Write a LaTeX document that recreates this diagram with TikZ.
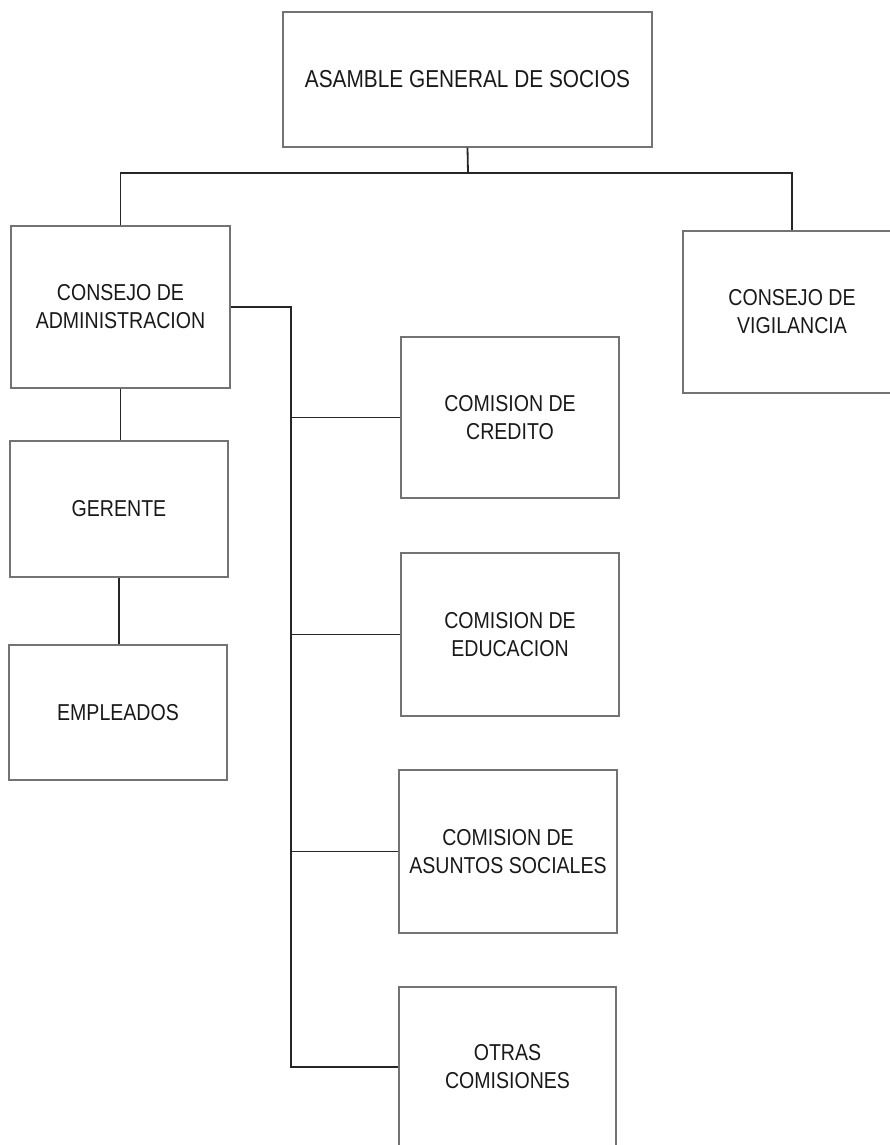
\documentclass[tikz,border=0pt]{standalone}
\usepackage{fontspec}
\setmainfont{Liberation Sans}[FakeStretch=0.85]
\begin{document}
\begin{tikzpicture}[x=1pt,y=-1pt,
  orgbox/.style={draw=black!55, line width=1.1pt, inner sep=0pt, align=center,
    font=\fontsize{23}{28}\selectfont, text=black!90},
  conn/.style={draw=black!85, line width=1.8pt}]
\useasboundingbox (0,0) rectangle (889,1145);
\node[orgbox, minimum width=369, minimum height=135, font=\fontsize{24.5}{28}\selectfont] (top) at (467.5,79.5) {ASAMBLE GENERAL DE SOCIOS};
\node[orgbox, minimum width=219, minimum height=162] (ca) at (120.5,307) {CONSEJO DE\\ADMINISTRACION};
\node[orgbox, minimum width=218, minimum height=162] (cv) at (792,312) {CONSEJO DE\\VIGILANCIA};
\node[orgbox, minimum width=218, minimum height=136] (ger) at (119,509) {GERENTE};
\node[orgbox, minimum width=218, minimum height=135] (emp) at (118,712.5) {EMPLEADOS};
\node[orgbox, minimum width=218, minimum height=161] (cre) at (510,417.5) {COMISION DE\\CREDITO};
\node[orgbox, minimum width=218, minimum height=163] (edu) at (510,634.5) {COMISION DE\\EDUCACION};
\node[orgbox, minimum width=218, minimum height=163] (aso) at (508,851.5) {COMISION DE\\ASUNTOS SOCIALES};
\node[orgbox, minimum width=217, minimum height=160] (otr) at (507.5,1067) {OTRAS\\COMISIONES};
\coordinate (bus) at (468,173);
\coordinate (spine) at (291,0);
\draw[conn] (top.south) -- (bus);
\draw[conn] (ca.north) |- (bus) -| (cv.north);
\draw[conn] (ca.south) -- (ca.south |- ger.north);
\draw[conn] (ger.south) -- (ger.south |- emp.north);
\draw[conn] (ca.east) -| (spine |- otr.west) -- (otr.west);
\draw[conn] (spine |- cre.west) -- (cre.west);
\draw[conn] (spine |- edu.west) -- (edu.west);
\draw[conn] (spine |- aso.west) -- (aso.west);
\end{tikzpicture}
\end{document}
